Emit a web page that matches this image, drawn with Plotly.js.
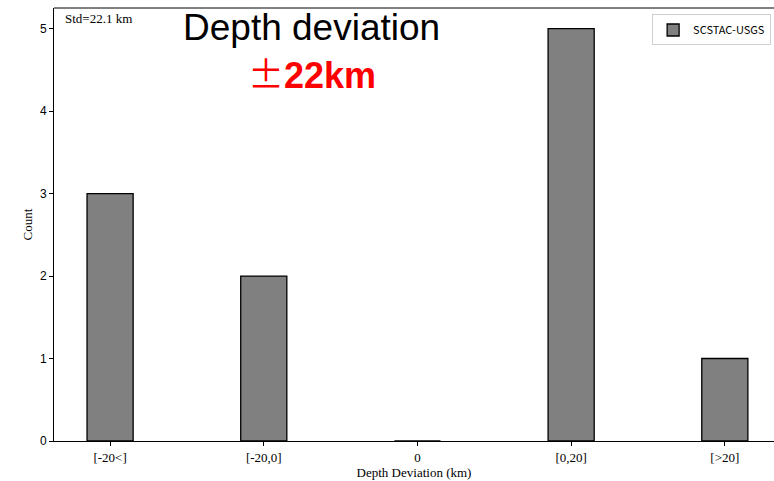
<!DOCTYPE html>
<html>
<head>
<meta charset="utf-8">
<script src="https://cdn.plot.ly/plotly-3.0.1.min.js"></script>
<style>html,body{margin:0;padding:0;background:#fff;overflow:hidden}</style>
</head>
<body>
<div id="chart" style="width:774px;height:481px"></div>
<script>
const categories = ["[-20<]", "[-20,0]", "0", "[0,20]", "[>20]"];
const counts = [3, 2, 0, 5, 1];
const seriesName = "SCSTAC-USGS";
const stdText = "Std=22.1 km";
const titleText = "Depth deviation";
const subSign = "±";
const subValue = "22km";
const yTicks = [0, 1, 2, 3, 4, 5];

const idx = categories.map((c, i) => i);

const trace = {
  type: "bar",
  x: idx,
  y: counts,
  width: 0.3,
  name: seriesName,
  showlegend: true,
  marker: {color: "#808080", line: {color: "#000000", width: 1.3}},
  hoverinfo: "x+y"
};

const layout = {
  width: 774,
  height: 481,
  margin: {l: 54, r: 0, t: 8, b: 40},
  paper_bgcolor: "#fff",
  plot_bgcolor: "#fff",
  showlegend: true,
  bargap: 0,
  xaxis: {
    range: [-0.365, 4.32],
    tickmode: "array",
    tickvals: idx,
    ticktext: categories,
    ticks: "outside",
    ticklen: 4,
    tickcolor: "#000",
    showline: true,
    linecolor: "#000",
    linewidth: 1,
    showgrid: false,
    zeroline: false,
    tickfont: {family: "Liberation Serif, Times New Roman, serif", size: 13, color: "#000"},
    title: {text: "Depth Deviation (km)", font: {family: "Liberation Serif, Times New Roman, serif", size: 13, color: "#000"}, standoff: 4}
  },
  yaxis: {
    range: [0, 5.25],
    tickmode: "array",
    tickvals: yTicks,
    ticks: "outside",
    ticklen: 4,
    tickcolor: "#000",
    showline: true,
    linecolor: "#000",
    linewidth: 1,
    showgrid: false,
    zeroline: false,
    tickfont: {family: "Liberation Sans, Arial, sans-serif", size: 12, color: "#000"},
    title: {text: "Count", font: {family: "Liberation Serif, Times New Roman, serif", size: 13, color: "#000"}, standoff: 4}
  },
  legend: {
    x: 0.996, y: 0.985, xanchor: "right", yanchor: "top",
    bgcolor: "rgba(255,255,255,0.8)",
    bordercolor: "#d0d0d0",
    borderwidth: 1,
    font: {family: "Noto Sans CJK SC, DejaVu Sans Condensed, sans-serif", size: 11, color: "#000"},
    itemwidth: 30
  },
  shapes: [
    {type: "line", xref: "paper", yref: "paper", x0: 0, x1: 1, y0: 1, y1: 1, line: {color: "#000", width: 1}}
  ],
  annotations: [
    {text: stdText, xref: "paper", yref: "paper", x: 0.013, y: 0.998, xanchor: "left", yanchor: "top", showarrow: false,
     font: {family: "Liberation Serif, Times New Roman, serif", size: 13, color: "#000"}},
    {text: titleText, xref: "paper", yref: "paper", x: 0.358, y: 1.008, xanchor: "center", yanchor: "top", showarrow: false,
     font: {family: "Liberation Sans, Arial, sans-serif", size: 37, color: "#000"}},
    {text: "<span style='font-family:Noto Sans CJK SC'>" + subSign + "</span><b>" + subValue + "</b>",
     xref: "paper", yref: "paper", x: 0.358, y: 0.918, xanchor: "center", yanchor: "top", showarrow: false,
     font: {family: "Liberation Sans, Arial, sans-serif", size: 36, color: "#ff0000"}}
  ]
};

Plotly.newPlot("chart", [trace], layout, {displayModeBar: false, staticPlot: true});
</script>
</body>
</html>
